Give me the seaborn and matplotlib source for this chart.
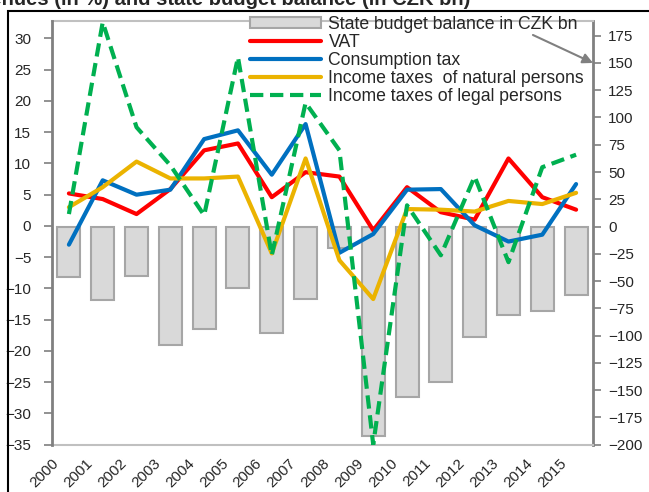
#!/usr/bin/env python3
"""
Tax revenue growth (lines, left axis) and state budget balance (bars, right axis).
"""

import pandas as pd
import matplotlib.pyplot as plt
import matplotlib.transforms as mtransforms
from matplotlib.patches import Rectangle, Patch
from matplotlib.lines import Line2D
import seaborn as sns
import numpy as np

years = [str(y) for y in range(2000, 2016)]

# state budget balance, CZK bn (right axis)
budget_balance = [-46.1, -67.7, -45.7, -109.1, -93.7, -56.3, -97.6, -66.4,
                  -20.0, -192.4, -156.4, -142.8, -101.0, -81.3, -77.8, -62.8]

# y/y growth in % (left axis)
vat = [5.2, 4.3, 1.9, 5.9, 12.1, 13.2, 4.6, 8.6, 7.9, -0.7, 6.2, 2.2, 1.0, 10.8, 4.6, 2.6]
consumption_tax = [-3.0, 7.3, 5.0, 5.8, 13.9, 15.3, 8.2, 16.3, -4.3, -1.3, 5.8, 5.9, 0.1, -2.5, -1.4, 6.7]
income_natural = [3.0, 6.2, 10.3, 7.6, 7.6, 7.9, -4.4, 10.8, -5.5, -11.7, 2.7, 2.6, 2.3, 4.0, 3.5, 5.3]
income_legal = [1.9, 32.6, 15.8, 9.7, 1.7, 27.0, -4.7, 19.7, 12.1, -35.0, 3.3, -4.7, 7.9, -5.8, 9.4, 11.4]

series_names = ['VAT', 'Consumption tax', 'Income taxes  of natural persons',
                'Income taxes of legal persons']
series_colors = ['#ff0000', '#0070c0', '#ebb300', '#00b050']
bar_label = 'State budget balance in CZK bn'

left_ticks = list(range(-35, 31, 5))
right_ticks = list(range(-200, 176, 25))

DASH = (0, (3.2, 1.6))


def main():
    sns.set_style('white')
    plt.rcParams['font.family'] = ['Liberation Sans', 'DejaVu Sans']

    fig = plt.figure(figsize=(6.49, 4.92), dpi=100)
    ax = fig.add_axes([52 / 649, 1 - 444.6 / 492, 541 / 649, 423.6 / 492])
    ax2 = ax.twinx()

    # bars on the right axis, drawn underneath
    df_bar = pd.DataFrame({'year': years, 'balance': budget_balance})
    sns.barplot(data=df_bar, x='year', y='balance', ax=ax2, color='#d9d9d9',
                edgecolor='#a6a6a6', linewidth=1.5, width=0.68, saturation=1)

    # lines on the left axis
    values = [vat, consumption_tax, income_natural, income_legal]
    df_lines = pd.DataFrame({
        'year': years * 4,
        'value': sum(values, []),
        'series': np.repeat(series_names, len(years)),
    })
    for name, color in zip(series_names, series_colors):
        sub = df_lines[df_lines['series'] == name]
        ls = DASH if name.endswith('legal persons') else '-'
        sns.lineplot(data=sub, x='year', y='value', ax=ax, color=color,
                     linewidth=3, linestyle=ls, sort=False)

    ax.set_zorder(ax2.get_zorder() + 1)
    ax.patch.set_visible(False)

    ax.set_xlim(-0.5, len(years) - 0.5)
    ax.set_ylim(-35, 32.8)
    ax2.set_ylim(-200, 188.5)
    ax.set_yticks(left_ticks)
    ax2.set_yticks(right_ticks)
    ax.set_xticks(range(len(years)))

    for a in (ax, ax2):
        a.set_xlabel('')
        a.set_ylabel('')
        a.tick_params(axis='y', labelsize=11, length=6, width=1.2,
                      color='#7f7f7f', direction='out')
        a.tick_params(axis='x', length=0, pad=2)
        for s in a.spines.values():
            s.set_visible(False)
    ax.tick_params(axis='y', pad=9)
    ax2.tick_params(axis='y', pad=5)
    ax2.tick_params(axis='x', labelbottom=False)

    # rotated year labels, nudged down-left like the original
    ax.set_xticklabels(years, rotation=45, ha='right', va='center',
                       rotation_mode='anchor', fontsize=11)
    offset = mtransforms.ScaledTranslation(-12 / 100, -14 / 100, fig.dpi_scale_trans)
    for lbl in ax.get_xticklabels():
        lbl.set_transform(lbl.get_transform() + offset)

    ax.yaxis.set_ticks_position('left')
    ax2.yaxis.set_ticks_position('right')
    ax.spines['left'].set_visible(True)
    ax.spines['left'].set_color('#808080')
    ax.spines['left'].set_linewidth(2)
    ax2.spines['right'].set_visible(True)
    ax2.spines['right'].set_color('#808080')
    ax2.spines['right'].set_linewidth(2)
    for side in ('top', 'bottom'):
        ax2.spines[side].set_visible(True)
        ax2.spines[side].set_color('#c0c0c0')
        ax2.spines[side].set_linewidth(1.5)

    # legend
    handles = [Patch(facecolor='#d9d9d9', edgecolor='#a6a6a6', linewidth=1.5)]
    for name, color in zip(series_names, series_colors):
        ls = DASH if name.endswith('legal persons') else '-'
        handles.append(Line2D([], [], color=color, linewidth=3, linestyle=ls))
    ax.legend(handles, [bar_label] + series_names, loc='upper left',
              bbox_to_anchor=(250 / 649, 1 - 16 / 492), bbox_transform=fig.transFigure,
              frameon=False, fontsize=12.7, handlelength=4.0, handleheight=0.6,
              handletextpad=0.45, labelspacing=0.06, borderpad=0, borderaxespad=0)

    # arrow pointing legend to right axis
    ax2.annotate('', xy=(1.0, 150), xycoords=ax2.get_yaxis_transform(),
                 xytext=(0.889, 0.967), textcoords='axes fraction',
                 arrowprops=dict(arrowstyle='-|>', color='#808080', lw=1.5,
                                 mutation_scale=15, shrinkA=0, shrinkB=0))

    # clipped title and frame of the cropped figure
    fig.text(470 / 649, 1 - 5 / 492, 'Tax revenues (in %) and state budget balance (in CZK bn)',
             ha='right', va='baseline', fontsize=14.5, fontweight='bold')
    fig.patches.append(Rectangle((8 / 649, -0.1), 1.2, 1.1 - 11 / 492,
                                 transform=fig.transFigure, fill=False,
                                 edgecolor='black', linewidth=1.5))

    fig.savefig('out.png', dpi=100)
    plt.close(fig)


if __name__ == "__main__":
    main()
